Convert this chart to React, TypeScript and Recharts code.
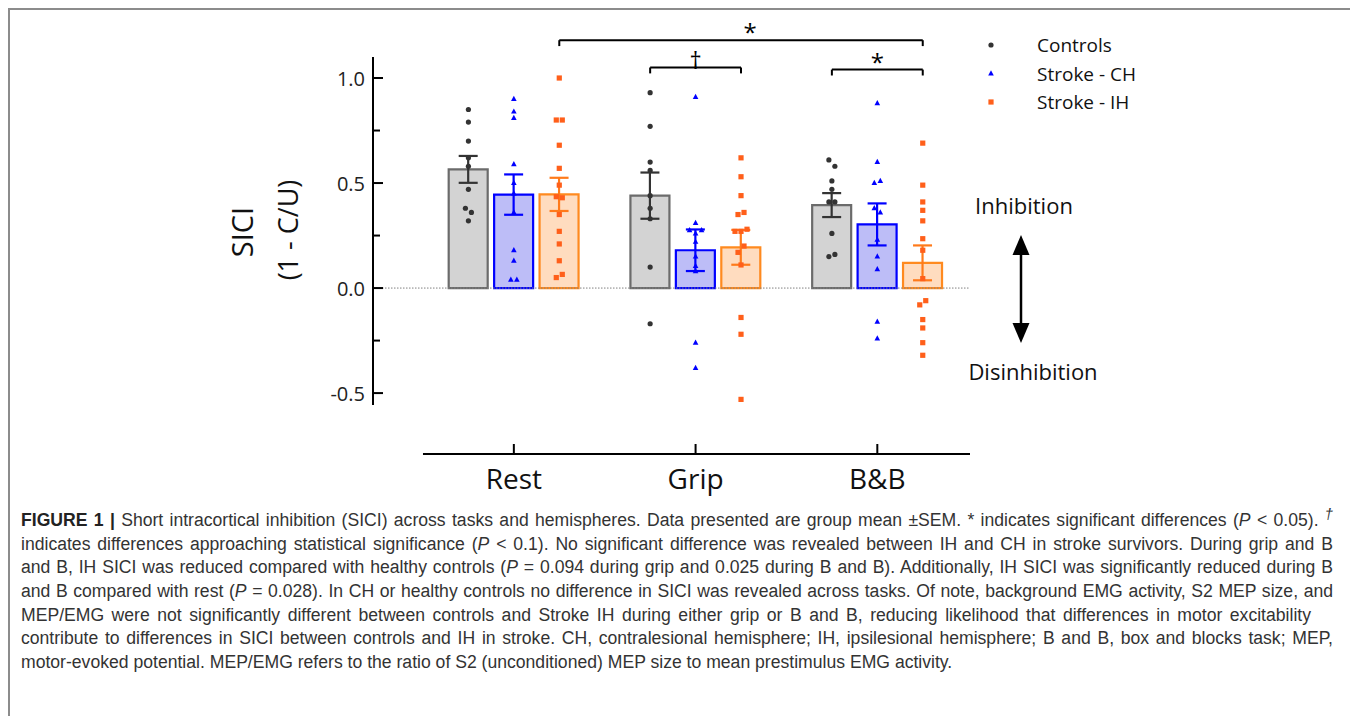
import React from 'react'
import { ComposedChart, Bar, ErrorBar, Scatter, XAxis, YAxis, ReferenceLine } from 'recharts'

const categories = ['Rest', 'Grip', 'B&B']
const seriesNames = ['Controls', 'Stroke - CH', 'Stroke - IH']

// group mean and SEM per task
const controlsMean = [0.565, 0.44, 0.395]
const controlsSem = [0.064, 0.11, 0.057]
const chMean = [0.445, 0.18, 0.303]
const chSem = [0.096, 0.099, 0.1]
const ihMean = [0.446, 0.194, 0.12]
const ihSem = [0.079, 0.083, 0.083]

// individual subjects per task: [SICI, nudge step when two points overlap]
const controlsPoints: [number, number][][] = [
  [[0.85, 0], [0.79, 0], [0.7, 0], [0.62, 0], [0.58, 0], [0.47, 0], [0.38, -1], [0.36, 1], [0.32, 0]],
  [[0.93, 0], [0.77, 0], [0.6, 0], [0.56, 0], [0.44, 0], [0.38, 0], [0.33, 0], [0.1, 0], [-0.17, 0]],
  [[0.61, -1], [0.58, 1], [0.51, 0], [0.47, 0], [0.41, -1], [0.41, 1], [0.26, 0], [0.15, -1], [0.16, 1]],
]
const chPoints: [number, number][][] = [
  [[0.9, 0], [0.84, 0], [0.81, 0], [0.59, 0], [0.5, 0], [0.45, 0], [0.36, 0], [0.18, 0], [0.13, 0], [0.04, -1], [0.04, 1]],
  [[0.91, 0], [0.31, 0], [0.275, -2], [0.275, 2], [0.26, 0], [0.22, 0], [0.15, 0], [0.105, 0], [0.08, 0], [-0.26, 0], [-0.38, 0]],
  [[0.88, 0], [0.6, 0], [0.51, 1], [0.5, -1], [0.38, -1], [0.36, 1], [0.23, 0], [0.15, 0], [0.09, 0], [-0.16, 0], [-0.24, 0]],
]
const ihPoints: [number, number][][] = [
  [[1.0, 0], [0.8, -1], [0.8, 1], [0.68, 0], [0.57, 0], [0.49, 0], [0.435, -1], [0.43, 1], [0.35, 0], [0.27, 0], [0.21, 0], [0.13, 0], [0.05, -1], [0.065, 1]],
  [[0.62, 0], [0.53, 0], [0.44, 0], [0.35, -1], [0.36, 1], [0.27, -2], [0.27, 0], [0.28, 2], [0.2, 1], [0.17, -1], [0.11, 0], [-0.14, 0], [-0.22, 0], [-0.53, 0]],
  [[0.69, 0], [0.49, 0], [0.41, 0], [0.37, 0], [0.32, 0], [0.235, 0], [0.18, 0], [0.045, 0], [-0.06, 1], [-0.08, -1], [-0.15, 0], [-0.19, 0], [-0.26, 0], [-0.32, 0]],
]

const yTicks = [-0.5, -0.25, 0, 0.25, 0.5, 0.75, 1.0]
const yTickLabels = ['-0.5', '', '0.0', '', '0.5', '', '1.0']

// [task, series] -> [task, series], height, mark
const brackets: { from: [number, number]; to: [number, number]; level: number; mark: string; dx: number }[] = [
  { from: [0, 2], to: [2, 2], level: 1.18, mark: '*', dx: 9 },
  { from: [1, 0], to: [1, 2], level: 1.05, mark: '†', dx: 0 },
  { from: [2, 0], to: [2, 2], level: 1.04, mark: '*', dx: 0 },
]

const STEP = 0.25
const NUDGE = 0.0165
const X_MIN = -0.775
const X_MAX = 2.51
const Y_MIN = -0.79
const Y_MAX = 1.3
const FONT = '"Open Sans", "Noto Sans", sans-serif'

const keys = ['controls', 'ch', 'ih']
const means = [controlsMean, chMean, ihMean]
const sems = [controlsSem, chSem, ihSem]
const colors = [
  { fill: '#d3d3d3', stroke: '#6b6b6b', err: '#333333', pt: '#333333' },
  { fill: '#bdbdf7', stroke: '#0000ff', err: '#0000ff', pt: '#0000ff' },
  { fill: '#ffdcbf', stroke: '#ff8a1f', err: '#ff7a1a', pt: '#ff5f1a' },
]

const barRows = categories.flatMap((_, c) =>
  keys.map((k, s) => ({ x: c + (s - 1) * STEP, [k]: means[s][c], [k + 'Sem']: sems[s][c] }))
)

const toPoints = (pts: [number, number][][], s: number) =>
  pts.flatMap((cat, c) => cat.map(([v, n]) => ({ x: c + (s - 1) * STEP + n * NUDGE, y: v })))

const controlsData = toPoints(controlsPoints, 0)
const chData = toPoints(chPoints, 1)
const ihData = toPoints(ihPoints, 2)

const DotShape = (p: any) => <circle cx={p.cx} cy={p.cy} r={2.6} fill={colors[0].pt} />
const TriShape = (p: any) => (
  <path d={`M${p.cx},${p.cy - 3.2} L${p.cx + 2.8},${p.cy + 2} L${p.cx - 2.8},${p.cy + 2} Z`} fill={colors[1].pt} />
)
const SquareShape = (p: any) => <rect x={p.cx - 2.6} y={p.cy - 2.6} width={5.2} height={5.2} fill={colors[2].pt} />

const XTick = ({ x, y, payload }: any) => (
  <g>
    <line x1={x} x2={x} y1={y} y2={y - 10} stroke="#000" strokeWidth={2} />
    <text x={x} y={y + 35} textAnchor="middle" fontSize={28} fontFamily={FONT} fill="#111">
      {categories[payload.value]}
    </text>
  </g>
)

const YTick = ({ x, y, payload }: any) => {
  const label = yTickLabels[yTicks.indexOf(payload.value)]
  return (
    <g>
      <line x1={x} x2={x + (label ? 10 : 7)} y1={y} y2={y} stroke="#000" strokeWidth={2} />
      {label && (
        <text x={x - 8} y={y} textAnchor="end" dominantBaseline="central" fontSize={20} fontFamily={FONT} fill="#222">
          {label}
        </text>
      )}
    </g>
  )
}

const YLabel = () => (
  <g fontFamily={FONT} fill="#111" textAnchor="middle">
    <text x={231} y={222} fontSize={29} dominantBaseline="central" transform="rotate(-90 231 222)">SICI</text>
    <text x={277} y={220} fontSize={27} dominantBaseline="central" transform="rotate(-90 277 220)">(1 - C/U)</text>
  </g>
)

const bx = ([c, s]: [number, number]) => c + (s - 1) * STEP
const LEG = 0.028

function Caption() {
  const full = { width: 1312, textAlign: 'justify' as const, textAlignLast: 'justify' as const }
  return (
    <div
      style={{
        position: 'absolute',
        left: 11,
        top: 499,
        fontFamily: '"Liberation Sans", Arial, sans-serif',
        fontSize: 17.6,
        lineHeight: '23.67px',
        color: '#333',
      }}
    >
      <div style={full}>
        <b style={{ color: '#222' }}>FIGURE 1 |</b> Short intracortical inhibition (SICI) across tasks and hemispheres. Data presented are group mean ±SEM. * indicates significant differences (<i>P</i> &lt; 0.05). <sup style={{ lineHeight: 0 }}><i>†</i></sup>
      </div>
      <div style={full}>
        indicates differences approaching statistical significance (<i>P</i> &lt; 0.1). No significant difference was revealed between IH and CH in stroke survivors. During grip and B
      </div>
      <div style={full}>
        and B, IH SICI was reduced compared with healthy controls (<i>P</i> = 0.094 during grip and 0.025 during B and B). Additionally, IH SICI was significantly reduced during B
      </div>
      <div style={full}>
        and B compared with rest (<i>P</i> = 0.028). In CH or healthy controls no difference in SICI was revealed across tasks. Of note, background EMG activity, S2 MEP size, and
      </div>
      <div style={{ ...full, width: 1290 }}>
        MEP/EMG were not significantly different between controls and Stroke IH during either grip or B and B, reducing likelihood that differences in motor excitability
      </div>
      <div style={full}>
        contribute to differences in SICI between controls and IH in stroke. CH, contralesional hemisphere; IH, ipsilesional hemisphere; B and B, box and blocks task; MEP,
      </div>
      <div style={{ whiteSpace: 'nowrap' }}>
        motor-evoked potential. MEP/EMG refers to the ratio of S2 (unconditioned) MEP size to mean prestimulus EMG activity.
      </div>
    </div>
  )
}

export default function App() {
  const shapes = [DotShape, TriShape, SquareShape]
  return (
    <div
      style={{
        position: 'relative',
        width: 1348,
        height: 708,
        boxSizing: 'border-box',
        border: '2px solid #8c8c8c',
        borderBottom: 'none',
        background: '#fff',
      }}
    >
      <div style={{ position: 'absolute', left: 0, top: 0 }}>
        <ComposedChart width={1344} height={500} data={barRows} margin={{ top: 5, right: 384, bottom: 6, left: 283 }}>
          <XAxis
            type="number"
            dataKey="x"
            domain={[X_MIN, X_MAX]}
            allowDataOverflow
            ticks={[0, 1, 2]}
            interval={0}
            tick={<XTick />}
            tickLine={false}
            axisLine={false}
            tickSize={0}
            tickMargin={0}
            height={50}
          />
          <XAxis xAxisId="pts" type="number" dataKey="x" domain={[X_MIN, X_MAX]} allowDataOverflow hide />
          <YAxis
            type="number"
            domain={[Y_MIN, Y_MAX]}
            allowDataOverflow
            ticks={yTicks}
            interval={0}
            tick={<YTick />}
            tickLine={false}
            axisLine={false}
            tickSize={0}
            tickMargin={0}
            width={80}
            label={{ content: () => <YLabel /> }}
          />
          <ReferenceLine y={0} stroke="#808080" strokeWidth={1} strokeDasharray="1.5 1.5" />
          <ReferenceLine
            segment={[{ x: X_MIN, y: -0.557 }, { x: X_MIN, y: 1.1 }]}
            stroke="#000"
            strokeWidth={2}
            ifOverflow="visible"
          />
          <ReferenceLine
            segment={[{ x: -0.5, y: Y_MIN }, { x: X_MAX, y: Y_MIN }]}
            stroke="#000"
            strokeWidth={2}
            ifOverflow="visible"
          />
          {keys.map((k, s) => (
            <Bar
              key={k}
              dataKey={k}
              stackId="mean"
              barSize={39}
              fill={colors[s].fill}
              stroke={colors[s].stroke}
              strokeWidth={2.2}
              isAnimationActive={false}
            >
              <ErrorBar dataKey={k + 'Sem'} width={9.5} stroke={colors[s].err} strokeWidth={2.2} direction="y" />
            </Bar>
          ))}
          {[controlsData, chData, ihData].map((d, s) => (
            <Scatter
              key={s}
              xAxisId="pts"
              name={seriesNames[s]}
              data={d}
              dataKey="y"
              shape={shapes[s]}
              isAnimationActive={false}
            />
          ))}
          {brackets.map((b, i) => [
            <ReferenceLine
              key={'h' + i}
              segment={[{ x: bx(b.from), y: b.level }, { x: bx(b.to), y: b.level }]}
              stroke="#000"
              strokeWidth={2}
              ifOverflow="visible"
              label={{ value: b.mark, position: 'top', offset: -1, dx: b.dx, fontSize: 24, fill: '#000', fontFamily: FONT }}
            />,
            <ReferenceLine
              key={'l' + i}
              segment={[{ x: bx(b.from), y: b.level }, { x: bx(b.from), y: b.level - LEG }]}
              stroke="#000"
              strokeWidth={2}
              ifOverflow="visible"
            />,
            <ReferenceLine
              key={'r' + i}
              segment={[{ x: bx(b.to), y: b.level }, { x: bx(b.to), y: b.level - LEG }]}
              stroke="#000"
              strokeWidth={2}
              ifOverflow="visible"
            />,
          ])}
        </ComposedChart>
      </div>
      <svg width={1344} height={500} style={{ position: 'absolute', left: 0, top: 0, pointerEvents: 'none' }}>
        <g fontFamily={FONT} fontSize={19} fill="#111">
          {seriesNames.map((n, s) => {
            const y = 35 + s * 28.5
            const Shape = shapes[s]
            return (
              <g key={n}>
                <Shape cx={981} cy={y} />
                <text x={1027} y={y} dominantBaseline="central">{n}</text>
              </g>
            )
          })}
        </g>
        <g fontFamily={FONT} fontSize={22} fill="#111" textAnchor="middle">
          <text x={1014} y={195} dominantBaseline="central">Inhibition</text>
          <text x={1023} y={361} dominantBaseline="central">Disinhibition</text>
        </g>
        <line x1={1011} x2={1011} y1={240} y2={318} stroke="#000" strokeWidth={2.5} />
        <path d="M1011,225 L1019.5,245 L1002.5,245 Z" fill="#000" />
        <path d="M1011,333 L1019.5,313 L1002.5,313 Z" fill="#000" />
      </svg>
      <Caption />
    </div>
  )
}
